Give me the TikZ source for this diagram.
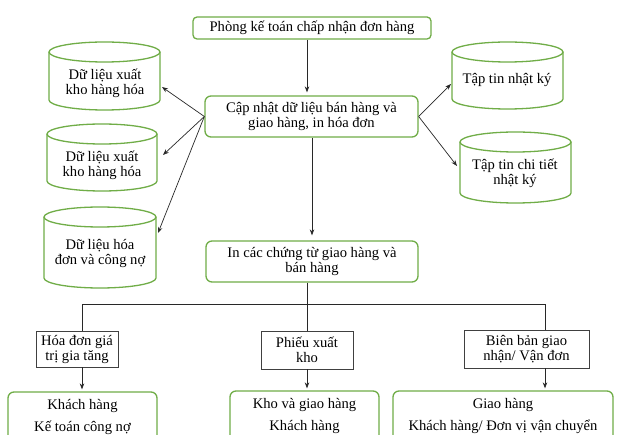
\documentclass[tikz,border=0pt]{standalone}
\usepackage{fontspec}
\setmainfont{Liberation Serif}
\usetikzlibrary{arrows.meta}
\definecolor{boxgreen}{RGB}{112,173,71}
\definecolor{lineblack}{RGB}{40,40,40}
\newcommand\fsmain{\fontsize{14.6}{15}\selectfont}
\newcommand\fsbottom{\fontsize{14.6}{22}\selectfont}
\tikzset{
  gbox/.style={draw=boxgreen, line width=1.3pt, rounded corners=6pt, align=center, inner sep=2pt, font=\fsmain},
  bfont/.style={font=\fsbottom},
  sbox/.style={draw=black!75, line width=0.7pt, align=center, inner sep=2pt, font=\fsmain},
  conn/.style={draw=lineblack, line width=0.7pt},
  arr/.style={conn, -{Stealth[length=6pt,width=4.5pt]}},
  dbline/.style={draw=boxgreen, line width=1.3pt},
  cylarea/.style={inner sep=0pt, outer sep=0pt},
  dbtext/.style={align=center, inner sep=1pt, font=\fsmain},
}
% name, L, R, T, B, text x, text y, text
\newcommand\dbcyl[8]{%
  \pgfmathsetmacro\cylhw{(#3-#2)/2}%
  \pgfmathsetmacro\cylcx{(#3+#2)/2}%
  \pgfmathsetmacro\cylcy{(#4+#5)/2}%
  \node[cylarea, minimum width={#3-#2}, minimum height={#5-#4}] (#1) at (\cylcx,\cylcy) {};
  \draw[dbline] (#2,#4+10) -- (#2,#5-10) arc[start angle=180, end angle=360, x radius=\cylhw pt, y radius=10pt] -- (#3,#4+10);
  \draw[dbline] (\cylcx,#4+10) ellipse[x radius=\cylhw pt, y radius=10pt];
  \node[dbtext] (#1t) at (#6,#7) {#8};
}
\begin{document}
\begin{tikzpicture}[x=1pt,y=-1pt]
\useasboundingbox (0,0) rectangle (620,435);
\clip (0,0) rectangle (620,435);
\fill[white] (0,0) rectangle (620,435);

% boxes
\node[gbox, minimum width=238, minimum height=22, rounded corners=4pt] (start) at (312,28) {Phòng kế toán chấp nhận đơn hàng};
\node[gbox, minimum width=213, minimum height=41] (m) at (311.5,116.5) {Cập nhật dữ liệu bán hàng và\\giao hàng, in hóa đơn};
\node[gbox, minimum width=212, minimum height=41] (p) at (312,261.5) {In các chứng từ giao hàng và\\bán hàng};
\node[sbox, minimum width=82, minimum height=36] (s1) at (77,349) {Hóa đơn giá\\trị gia tăng};
\node[sbox, minimum width=92, minimum height=38] (s2) at (307,350) {Phiếu xuất\\kho};
\node[sbox, minimum width=125, minimum height=38] (s3) at (526.5,349) {Biên bản giao\\nhận/ Vận đơn};
\node[gbox, bfont, minimum width=149, minimum height=50] (b1) at (82.5,417) {Khách hàng\\Kế toán công nợ};
\node[gbox, bfont, minimum width=149, minimum height=50] (b2) at (304.5,416) {Kho và giao hàng\\Khách hàng};
\node[gbox, bfont, minimum width=220, minimum height=50] (b3) at (503,416) {Giao hàng\\Khách hàng/ Đơn vị vận chuyển};

% cylinders
\dbcyl{c1}{49}{160}{42}{110}{105}{83}{Dữ liệu xuất\\kho hàng hóa}
\dbcyl{c2}{47}{157}{124}{191}{102}{165}{Dữ liệu xuất\\kho hàng hóa}
\dbcyl{c3}{44}{156}{207}{288}{100}{253}{Dữ liệu hóa\\đơn và công nợ}
\dbcyl{r1}{452}{563}{42}{109}{507}{80}{Tập tin nhật ký}
\dbcyl{r2}{460}{571}{132}{203}{515}{173}{Tập tin chi tiết\\nhật ký}

% connectors
\draw[arr, shorten >=3pt] ([xshift=-5pt]start.south) -- ([xshift=-4.5pt]m.north);
\draw[arr] (m.west) -- ([shift={(2,11)}]c1.east);
\draw[arr] (m.west) -- ([shift={(6,-2.5)}]c2.east);
\draw[arr] (m.west) -- ([shift={(2,-14.5)}]c3.east);
\draw[arr] (m.east) -- ([shift={(-1,8.5)}]r1.west);
\draw[arr] (m.east) -- ([shift={(-3,-1.5)}]r2.west);
\draw[arr, shorten >=5pt] ([xshift=0.5pt]m.south) -- (p.north);

\draw[conn] (p.south -| s2.north) -- (s2.north);
\draw[conn] ([xshift=5pt]s1.north) -- ++(0,-26) -| ([xshift=18.5pt]s3.north);

\coordinate (s1b) at ([xshift=5pt]s1.south);
\coordinate (s3b) at ([xshift=18.5pt]s3.south);
\draw[arr, shorten >=2pt] (s1b) -- (s1b |- b1.north);
\draw[arr, shorten >=2pt] (s2.south) -- (s2.south |- b2.north);
\draw[arr, shorten >=2pt] (s3b) -- (s3b |- b3.north);
\end{tikzpicture}
\end{document}
